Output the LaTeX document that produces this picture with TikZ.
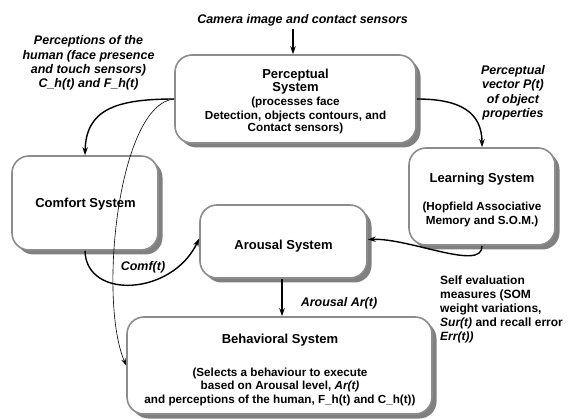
\documentclass[tikz,border=0pt]{standalone}
\usepackage{fontspec}
\setmainfont{Liberation Sans}
\usetikzlibrary{arrows.meta,shadows}
\definecolor{boxgray}{HTML}{8C8C8C}
\definecolor{shadowgray}{HTML}{808080}
\tikzset{
  sysbox/.style={draw=boxgray, line width=1.6pt, fill=white, rounded corners=17pt,
    drop shadow={shadow xshift=4.5pt, shadow yshift=-4.5pt, fill=shadowgray, opacity=1},
    inner sep=0pt},
  txt/.style={anchor=base, inner sep=0pt},
  big/.style={txt, font=\bfseries\fontsize{13}{15}\selectfont},
  small/.style={txt, font=\bfseries\fontsize{11.7}{14}\selectfont},
  lab/.style={txt, font=\bfseries\itshape\fontsize{12.5}{14.5}\selectfont},
  selfev/.style={anchor=base west, inner sep=0pt, font=\bfseries\fontsize{12}{14}\selectfont},
  tip/.style={-{Stealth[length=8pt,width=5.5pt]}},
  thick arrow/.style={tip, line width=1.4pt},
  thin arrow/.style={-{Stealth[length=7pt,width=4.5pt]}, line width=0.6pt}
}
\begin{document}
\begin{tikzpicture}[x=1pt,y=-1pt]
\useasboundingbox[fill=white] (0,0) rectangle (570,419);

% boxes
\node[sysbox, minimum width=241pt, minimum height=88pt] (perc) at (295.5,99) {};
\node[sysbox, minimum width=146pt, minimum height=94pt] (comf) at (85,203) {};
\node[sysbox, minimum width=146pt, minimum height=97pt] (learn) at (482,196.5) {};
\node[sysbox, minimum width=167pt, minimum height=73pt] (aro) at (283.5,241.5) {};
\node[sysbox, minimum width=305pt, minimum height=97pt] (beh) at (279.5,365.5) {};

% box texts
\node[big]   (perc1) at (295.5,78.7)  {Perceptual};
\node[big]   (perc2) at (295.5,91.8)  {System};
\node[small] (perc3) at (295.5,105.3) {(processes face};
\node[small] (perc4) at (295.5,119.3) {Detection, objects contours, and};
\node[small] (perc5) at (295.5,132)   {Contact sensors)};

\node[big] (comf1) at (85.5,207.7) {Comfort System};

\node[big]   (learn1) at (482,182.5) {Learning System};
\node[small] (learn2) at (482,210.5) {(Hopfield Associative};
\node[small] (learn3) at (482,225)   {Memory and S.O.M.)};

\node[big] (aro1) at (283.5,249.7) {Arousal System};

\node[big]   (beh1) at (280,343.5) {Behavioral System};
\node[small] (beh2) at (280,376)   {(Selects a behaviour to execute};
\node[small] (beh3) at (280,389.5) {based on Arousal level, \textit{Ar(t)}};
\node[small] (beh4) at (280,403)   {and perceptions of the human, F\_h(t) and C\_h(t))};

% free labels
\node[lab] (cam) at (302.5,24) {Camera image and contact sensors};
\node[lab] (hum1) at (88.5,45)   {Perceptions of the};
\node[lab] (hum2) at (88.5,59.3) {human (face presence};
\node[lab] (hum3) at (88.5,73.5) {and touch sensors)};
\node[lab] (hum4) at (88.5,87.7) {C\_h(t) and F\_h(t)};
\node[lab] (pv1) at (513,74.3)  {Perceptual};
\node[lab] (pv2) at (513,88.7)  {vector P(t)};
\node[lab] (pv3) at (513,103.1) {of object};
\node[lab] (pv4) at (513,117.5) {properties};
\node[lab] (comflab) at (143,270.5) {Comf(t)};
\node[lab] (arolab) at (339,306.5) {Arousal Ar(t)};
\node[selfev] (se1) at (440,285)   {Self evaluation};
\node[selfev] (se2) at (440,299)   {measures (SOM};
\node[selfev] (se3) at (440,313)   {weight variations,};
\node[selfev] (se4) at (440,327)   {\textit{Sur(t)} and recall error};
\node[selfev] (se5) at (440,341)   {\textit{Err(t))}};

% connectors
\coordinate (camend) at (293,29);
\draw[thick arrow] (camend) -- (camend |- perc.north);
\draw[thick arrow] (perc.west) .. controls (115,99) and (86,110) .. (comf.north);
\draw[thin arrow] (perc.west) .. controls (118,104) and (98,300) .. (beh.west);
\draw[thick arrow] (perc.east) .. controls (460,99) and (482,112) .. (learn.north);
\draw[thick arrow] (learn.south) .. controls (483,272) and (410,238) .. ([yshift=2pt]aro.east);
\draw[thick arrow] (comf.south) .. controls (86,300) and (172,296) .. ([yshift=3pt]aro.west);
\draw[thick arrow] ([xshift=-1.5pt]aro.south) -- ([xshift=-1.5pt]aro.south |- beh.north);
\end{tikzpicture}
\end{document}
